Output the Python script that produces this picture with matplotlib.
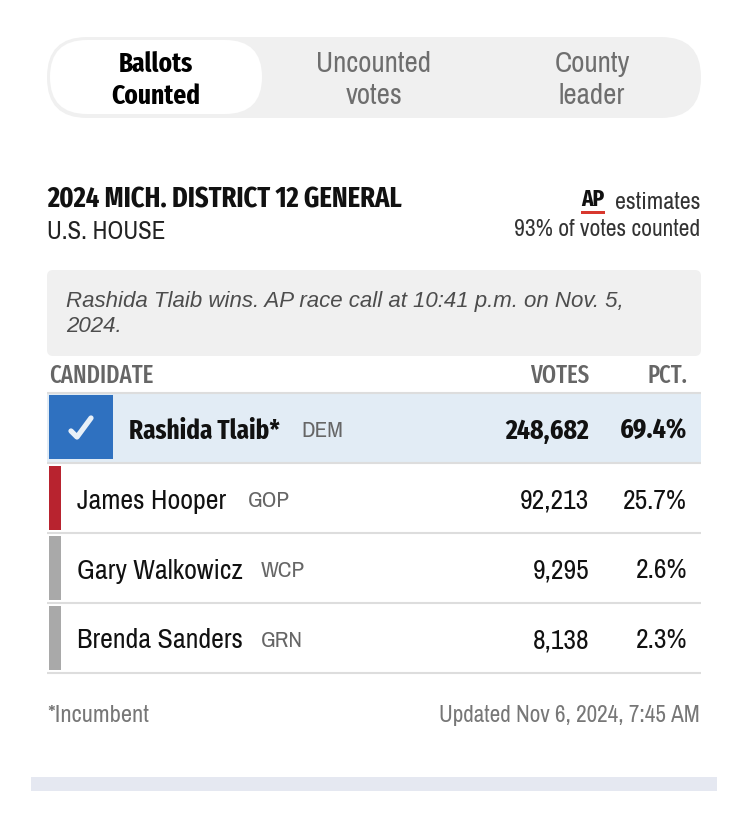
#!/usr/bin/env python3
import matplotlib
matplotlib.use('Agg')
import matplotlib.pyplot as plt
from matplotlib.patches import FancyBboxPatch, Rectangle

REGULAR = ['Archivo Narrow', 'Liberation Sans', 'DejaVu Sans']
BOLD = ['Fira Sans Extra Condensed', 'Liberation Sans', 'DejaVu Sans']
plt.rcParams['font.family'] = REGULAR

tabs = ['Ballots\nCounted', 'Uncounted\nvotes', 'County\nleader']
candidates = ['Rashida Tlaib*', 'James Hooper', 'Gary Walkowicz', 'Brenda Sanders']
parties = ['DEM', 'GOP', 'WCP', 'GRN']
votes = ['248,682', '92,213', '9,295', '8,138']
pcts = ['69.4%', '25.7%', '2.6%', '2.3%']
party_colors = ['#2f71c0', '#b8232f', '#a9a9a9', '#a9a9a9']
party_x = [301, 248, 261, 261]

W, H = 749, 823
fig = plt.figure(figsize=(W / 100, H / 100), dpi=100)
ax = fig.add_axes([0, 0, 1, 1])
ax.set_xlim(0, W)
ax.set_ylim(H, 0)
ax.axis('off')


def px(size):
    return size * 0.72


def rbox(x0, y0, x1, y1, r, color):
    ax.add_patch(FancyBboxPatch((x0 + r, y0 + r), x1 - x0 - 2 * r, y1 - y0 - 2 * r,
                                boxstyle='round,pad=%f,rounding_size=%f' % (r, r),
                                fc=color, ec='none'))


def hline(y):
    ax.plot([47, 701], [y, y], color='#dddddd', lw=1.5, solid_capstyle='butt')


# tab switcher
rbox(47, 37, 701, 118, 40, '#f0f0f0')
rbox(50, 40, 262, 114, 37, '#ffffff')
tab_x = [156, 374, 592]
for i, tab in enumerate(tabs):
    top, bottom = tab.split('\n')
    if i == 0:
        ax.text(tab_x[i], 64, top, ha='center', va='center', fontsize=px(27.5), color='#000000',
                weight='bold', family=BOLD)
        ax.text(tab_x[i], 96, bottom, ha='center', va='center', fontsize=px(27.5), color='#000000',
                weight='bold', family=BOLD)
    else:
        ax.text(tab_x[i], 64, top, ha='center', va='center', fontsize=px(29), color='#6e6e6e')
        ax.text(tab_x[i], 96, bottom, ha='center', va='center', fontsize=px(29), color='#6e6e6e')

# header
ax.text(47, 200, '2024 MICH. DISTRICT 12 GENERAL', va='center', fontsize=px(28.7), weight='bold',
        color='#111111', family=BOLD)
ax.text(47, 231, 'U.S. HOUSE', va='center', fontsize=px(25), color='#222222')
ax.text(700, 202.5, 'estimates', ha='right', va='center', fontsize=px(24), color='#333333')
ax.text(700, 229, '93% of votes counted', ha='right', va='center', fontsize=px(23.5), color='#333333')
ax.text(593, 199, 'AP', ha='center', va='center', fontsize=px(23), weight='bold', color='#111111', family=BOLD)
ax.add_patch(Rectangle((581, 211), 24, 3, fc='#d8382e', ec='none'))

# race call box
rbox(47, 270, 701, 356, 6, '#f0f0f0')
ax.text(66, 302, 'Rashida Tlaib wins. AP race call at 10:41 p.m. on Nov. 5,', va='center',
        fontsize=px(22.3), style='italic', color='#4d4d4d', family=['Liberation Sans', 'DejaVu Sans'])
ax.text(66, 326, '2024.', va='center', fontsize=px(22.3), style='italic', color='#4d4d4d',
        family=['Liberation Sans', 'DejaVu Sans'])

# table head
ax.text(49, 376, 'CANDIDATE', va='center', fontsize=px(24.7), color='#666666', weight='medium', family=BOLD)
ax.text(589, 376, 'VOTES', ha='right', va='center', fontsize=px(24.7), color='#666666', weight='medium', family=BOLD)
ax.text(687, 376, 'PCT.', ha='right', va='center', fontsize=px(24.7), color='#666666', weight='medium', family=BOLD)

# table rows
row_h = 70
hline(393)
for i, name in enumerate(candidates):
    top = 393 + i * row_h
    y = top + 38
    if i == 0:
        ax.add_patch(Rectangle((47, top + 1), 654, row_h - 2, fc='#e2ecf5', ec='none'))
        ax.add_patch(Rectangle((49, top + 2), 64, 64, fc=party_colors[i], ec='none'))
        ax.plot([71, 77, 91], [top + 38, top + 44, top + 25], color='#e8f0f8', lw=3.8,
                solid_capstyle='round', solid_joinstyle='round')
        bold = dict(weight='bold', family=BOLD)
        ax.text(129, y, name, va='center', fontsize=px(27.3), color='#111111', **bold)
        ax.text(589, y, votes[i], ha='right', va='center', fontsize=px(28), color='#111111', **bold)
        ax.text(687, y, pcts[i], ha='right', va='center', fontsize=px(28), color='#111111', **bold)
    else:
        ax.add_patch(Rectangle((49, top + 3), 12, 64, fc=party_colors[i], ec='none'))
        ax.text(77, y, name, va='center', fontsize=px(28), color='#111111')
        ax.text(589, y, votes[i], ha='right', va='center', fontsize=px(27.5), color='#111111')
        ax.text(687, y, pcts[i], ha='right', va='center', fontsize=px(27.5), color='#111111')
    ax.text(party_x[i], y, parties[i], va='center', fontsize=px(23), color='#666666')
    hline(top + row_h)

# footer
ax.text(47, 715, '*Incumbent', va='center', fontsize=px(24.5), color='#777777')
ax.text(700, 715, 'Updated Nov 6, 2024, 7:45 AM', ha='right', va='center', fontsize=px(23.2), color='#777777')
ax.add_patch(Rectangle((31, 777), 686, 14, fc='#e5e8f1', ec='none'))

fig.savefig('out.png', dpi=100, facecolor='white')
